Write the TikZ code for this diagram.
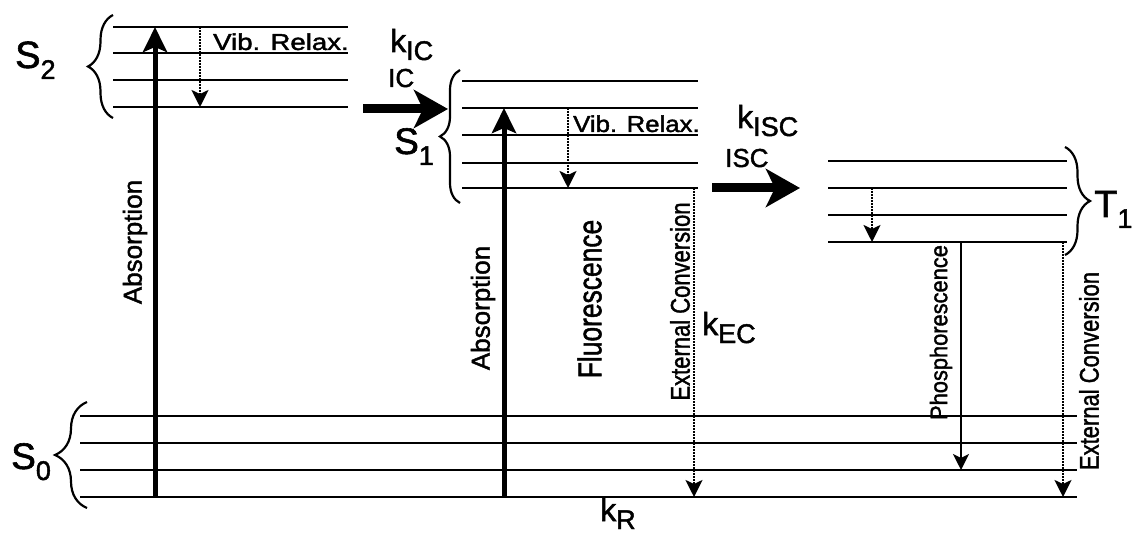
\documentclass[tikz,border=0pt]{standalone}
\usepackage{fontspec}
\setmainfont{Liberation Sans}[AutoFakeBold=1.6]
\usetikzlibrary{arrows.meta,decorations.pathreplacing}
\newcommand\myfs[2]{{\fontsize{#1}{#1}\selectfont #2}}
\newcommand\kk[1]{\myfs{32}{k}\raisebox{-8pt}{\myfs{27}{#1}}}
\newcommand\st[3]{\myfs{#1}{#2}\raisebox{-11pt}{\myfs{27}{#3}}}
\begin{document}
\begin{tikzpicture}[x=1pt,y=-1pt,
  lvl/.style={line width=2.8pt},
  brc/.style={line width=2.2pt,decorate,decoration={brace,amplitude=#1}},
  absarr/.style={line width=5pt,-{Stealth[length=25pt,width=24pt,inset=5pt]}},
  bigarr/.style={line width=9pt,-{Stealth[length=34pt,width=38pt,inset=9pt]}},
  dotarr/.style={line width=2.2pt,dash pattern=on 1.6pt off 1.4pt,-{Stealth[length=17pt,width=17pt,inset=4pt]}},
  solarr/.style={line width=2pt,-{Stealth[length=16pt,width=16pt,inset=4pt]}},
  lbl/.style={inner sep=0pt,anchor=base west,font=\bfseries},
  vt/.style={inner sep=0pt,rotate=90,font=\bfseries},
]
\useasboundingbox (0,0) rectangle (1134,537);
% levels
\foreach \y in {27,53,80,107} \draw[lvl] (113,\y) -- (348,\y);
\foreach \y in {81,108,135,163,188} \draw[lvl] (462,\y) -- (698,\y);
\foreach \y in {161,188,215,242} \draw[lvl] (828,\y) -- (1067,\y);
\foreach \y in {416,443,470,497} \draw[lvl] (80,\y) -- (1077,\y);
% braces
\draw[brc=25pt] (113,118) -- (113,15);
\draw[brc=20pt] (460,203) -- (460,70);
\draw[brc=32pt] (87,508) -- (87,402);
\draw[brc=25pt] (1065,147) -- (1065,255);
% connector end points
\coordinate (a1s) at (155,497); \coordinate (a1e) at (155,27);
\coordinate (a2s) at (504,497); \coordinate (a2e) at (504,108);
\coordinate (v2s) at (200,27);  \coordinate (v2e) at (200,107);
\coordinate (v1s) at (568,108); \coordinate (v1e) at (568,188);
\coordinate (vts) at (872,188); \coordinate (vte) at (872,242);
\coordinate (ecs) at (694,188); \coordinate (ece) at (694,497);
\coordinate (ets) at (1063,242); \coordinate (ete) at (1063,497);
\coordinate (phs) at (961,242); \coordinate (phe) at (961,470);
\coordinate (ics) at (363,109); \coordinate (ice) at (448,109);
\coordinate (iss) at (712,188); \coordinate (ise) at (800,188);
% arrows
\draw[absarr] (a1s) -- (a1e);
\draw[absarr] (a2s) -- (a2e);
\draw[dotarr] (v2s) -- (v2e);
\draw[dotarr] (v1s) -- (v1e);
\draw[dotarr] (vts) -- (vte);
\draw[dotarr] (ecs) -- (ece);
\draw[dotarr] (ets) -- (ete);
\draw[solarr] (phs) -- (phe);
\draw[bigarr] (ics) -- (ice);
\draw[bigarr] (iss) -- (ise);
% vertical labels
\node[vt] (abs1) at (135,242) {\myfs{26}{Absorption}};
\node[vt] (abs2) at (483,308) {\myfs{26}{Absorption}};
\node[vt] (flu) at (589.5,299) {\scalebox{0.8}[1]{\myfs{33}{Fluorescence}}};
\node[vt] (ec1) at (680,301.5) {\scalebox{0.815}[1]{\myfs{27}{External Conversion}}};
\node[vt] (ec2) at (1089,371) {\scalebox{0.815}[1]{\myfs{27}{External Conversion}}};
\node[vt] (pho) at (941,332.5) {\scalebox{0.91}[1]{\myfs{24}{Phosphorescence}}};
% horizontal labels
\node[lbl] (vr2) at (213,50) {\scalebox{1.2}[1]{\myfs{23}{Vib. Relax.}}};
\node[lbl] (vr1) at (573,132) {\scalebox{1.12}[1]{\myfs{23}{Vib. Relax.}}};
\node[lbl] (ic) at (388,87) {\myfs{26}{IC}};
\node[lbl] (isc) at (725,167) {\myfs{26}{ISC}};
\node[lbl] (kic) at (390,52) {\kk{IC}};
\node[lbl] (kisc) at (737,128) {\kk{ISC}};
\node[lbl] (kec) at (702,335) {\kk{EC}};
\node[lbl] (kr) at (600,521) {\kk{R}};
% state labels
\node[lbl] (s2) at (15,68) {\st{38}{S}{2}};
\node[lbl] (s1) at (394,154) {\st{37}{S}{1}};
\node[lbl] (s0) at (11,469) {\st{37}{S}{0}};
\node[lbl] (t1) at (1094,217) {\st{38}{T}{1}};
\end{tikzpicture}
\end{document}
